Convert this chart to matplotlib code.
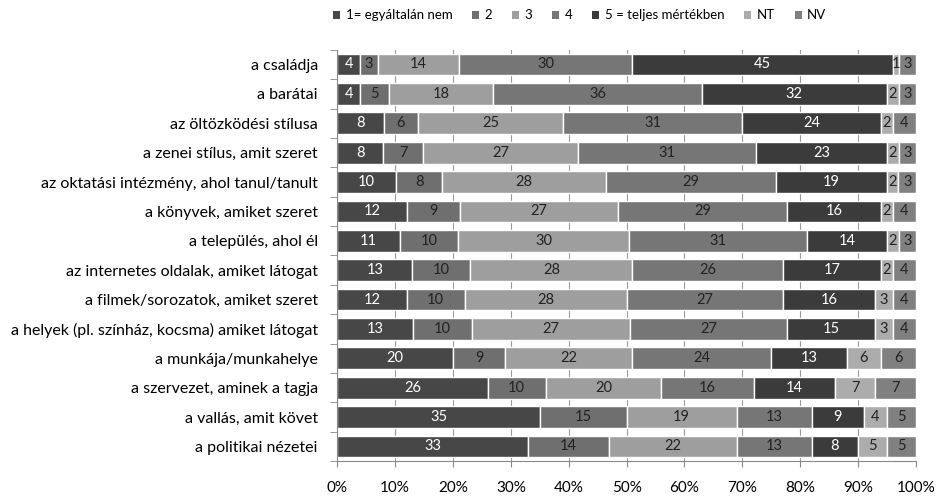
import numpy as np
import matplotlib.pyplot as plt
from matplotlib.patches import Patch

plt.rcParams['font.family'] = ['Lato', 'DejaVu Sans']

categories = [
    'a családja',
    'a barátai',
    'az öltözködési stílusa',
    'a zenei stílus, amit szeret',
    'az oktatási intézmény, ahol tanul/tanult',
    'a könyvek, amiket szeret',
    'a település, ahol él',
    'az internetes oldalak, amiket látogat',
    'a filmek/sorozatok, amiket szeret',
    'a helyek (pl. színház, kocsma) amiket látogat',
    'a munkája/munkahelye',
    'a szervezet, aminek a tagja',
    'a vallás, amit követ',
    'a politikai nézetei',
]

series_names = ['1= egyáltalán nem', '2', '3', '4', '5 = teljes mértékben', 'NT', 'NV']

v1 = [4, 4, 8, 8, 10, 12, 11, 13, 12, 13, 20, 26, 35, 33]
v2 = [3, 5, 6, 7, 8, 9, 10, 10, 10, 10, 9, 10, 15, 14]
v3 = [14, 18, 25, 27, 28, 27, 30, 28, 28, 27, 22, 20, 19, 22]
v4 = [30, 36, 31, 31, 29, 29, 31, 26, 27, 27, 24, 16, 13, 13]
v5 = [45, 32, 24, 23, 19, 16, 14, 17, 16, 15, 13, 14, 9, 8]
v_nt = [1, 2, 2, 2, 2, 2, 2, 2, 3, 3, 6, 7, 4, 5]
v_nv = [3, 3, 4, 3, 3, 4, 3, 4, 4, 4, 6, 7, 5, 5]

colors = ['#474747', '#6f6f6f', '#9e9e9e', '#767676', '#3b3b3b', '#acacac', '#808080']
text_colors = ['white', '#222222', '#222222', '#222222', 'white', '#222222', '#222222']

data = np.array([v1, v2, v3, v4, v5, v_nt, v_nv], dtype=float)
shares = data / data.sum(axis=0) * 100  # 100% stacked

fig = plt.figure(figsize=(9.38, 4.98), dpi=100)
ax = fig.add_axes([0.3595, 0.074, 0.617, 0.826])

y = np.arange(len(categories))
left = np.zeros(len(categories))
for i, name in enumerate(series_names):
    ax.barh(y, shares[i], left=left, height=0.74, color=colors[i],
            edgecolor='white', linewidth=1.0, zorder=2)
    for j in range(len(categories)):
        ax.text(left[j] + shares[i][j] / 2, y[j], f'{int(data[i][j])}',
                ha='center', va='center', fontsize=10.5, color=text_colors[i], zorder=3)
    left += shares[i]

ax.set_xlim(0, 100)
ax.set_ylim(len(categories) - 0.5, -0.5)
ax.set_xticks(np.arange(0, 101, 10))
ax.set_xticklabels([f'{t}%' for t in range(0, 101, 10)], fontsize=11)
ax.tick_params(axis='x', length=4, color='#888888', pad=10)
ax.set_yticks(y)
ax.set_yticklabels(categories, fontsize=11.5)
ax.tick_params(axis='y', length=0, pad=14)
ax.set_yticks(np.arange(-0.5, len(categories) + 0.5, 1), minor=True)
ax.tick_params(axis='y', which='minor', length=5, color='#888888')

ax.xaxis.grid(True, color='#9a9a9a', linewidth=0.8, zorder=0)
ax.set_axisbelow(True)
for side in ['top', 'right']:
    ax.spines[side].set_visible(False)
for side in ['left', 'bottom']:
    ax.spines[side].set_color('#888888')

handles = [Patch(facecolor=c, edgecolor='none') for c in colors]
fig.legend(handles, series_names, loc='upper center', bbox_to_anchor=(0.618, 1.005),
           ncol=7, frameon=False, fontsize=9.5, handlelength=0.55, handleheight=0.55,
           handletextpad=0.4, columnspacing=1.5)

fig.savefig('out.png', dpi=100)
